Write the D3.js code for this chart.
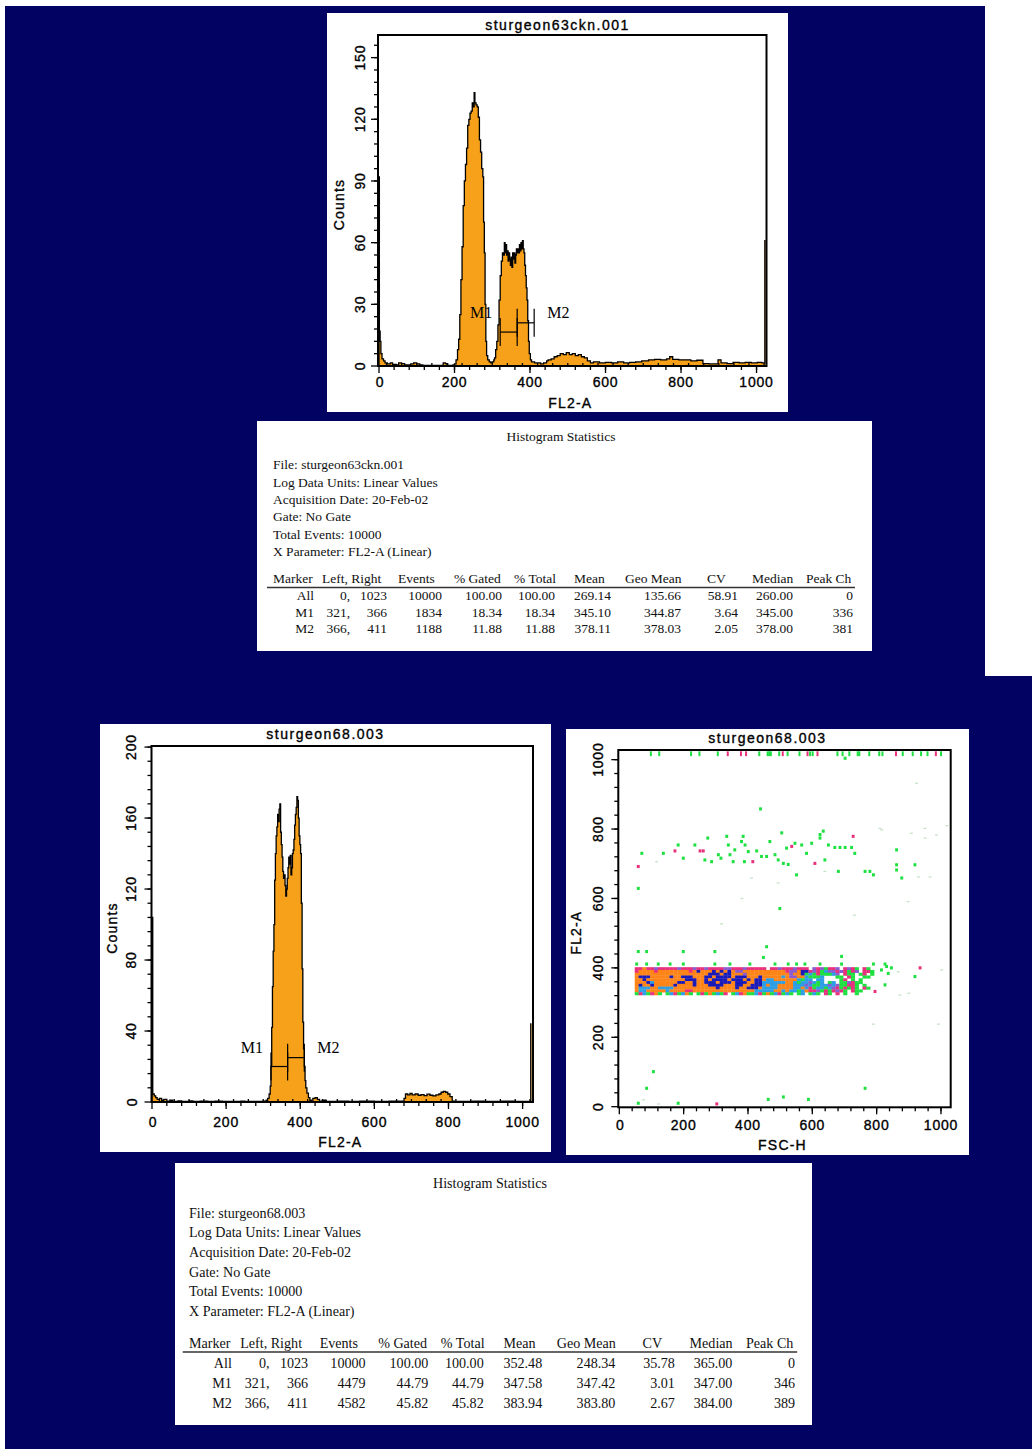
<!DOCTYPE html>
<html><head><meta charset="utf-8">
<script src="https://cdn.jsdelivr.net/npm/d3@7"></script>
<style>body{margin:0;background:#fff}svg{display:block}</style>
</head><body>
<svg id="c" width="1032" height="1449"></svg>
<script>
// ---------------- DATA ----------------
// Histogram 1 (sturgeon63ckn.001): bin start channel -> count
const hist1Channels = [0,1,3,5,8,12,16,22,30,36,46,52,60,68,76,84,92,100,108,116,124,132,140,150,160,170,176,182,190,196,
200,204,208,211,214,217,220,223,226,229,232,235,238,241,244,247,250,252,254,257,260,263,266,269,272,275,277,279,281,283,285,288,292,296,300,304,
306,309,312,315,318,321,324,327,330,332,334,336,338,340,342,344,346,348,350,352,354,356,358,360,362,364,366,368,370,372,374,376,378,380,382,384,386,388,390,392,394,396,398,401,404,
412,420,428,436,444,448,456,464,472,480,488,496,504,512,520,528,536,544,552,560,568,584,600,616,632,648,664,680,696,714,730,746,762,770,778,794,810,826,842,858,874,890,898,906,922,938,954,970,986,1002,1014,1022];
const hist1Counts = [92,17,12,6,3.5,2.5,1.5,1,1.5,0.8,0.5,1.5,1.2,0.5,0.5,1,1.5,1,0.5,0.3,0.3,0.3,0.3,0.3,0.3,1.5,1.2,0.3,0.3,0.5,
1,3,8,13,25,42,58,78,90,98,106,117,120,123,124,128,126,133,128,127,126,121,110,104,96,92,70,55,30,12,5,3,2,1.5,2,3,
4,8,12,20,32,44,51,55,54,60,55,59,54,56,51,55,52,49,53,48,55,52,55,50,54,57,55,57,55,59,56,60,57,61,57,55,49,44,38,32,22,12,6,3,2,
1.5,1.5,1,1.5,2.5,3,3.5,4.5,5,6,5.5,6.5,5.5,6,5,5.5,4.5,4,2.5,1.5,2,1.5,1.8,1.5,2,1.5,1.8,2,2.5,3,3.2,3,3.5,4.5,3.2,3,3,2.5,2.8,1.2,1,1,3,1.5,1.2,1.8,1.5,1.8,1.5,1.8,1.5,61];

// Histogram 2 (sturgeon68.003)
const hist2Channels = [0,2,6,10,14,20,26,32,40,48,56,70,80,100,110,130,150,170,190,210,240,250,270,300,
308,312,316,319,321,323,325,327,329,331,333,335,337,339,341,343,345,347,349,351,353,355,357,359,361,363,365,367,369,371,373,375,377,379,381,383,385,387,389,391,393,395,397,399,401,403,405,407,409,411,413,415,418,422,426,430,
434,440,446,452,460,470,500,530,560,600,640,680,684,690,696,702,710,718,726,734,742,750,758,766,774,780,786,792,798,804,810,816,860,900,940,980,1022];
const hist2Counts = [104,4.5,3.5,2.5,1.5,2,1,1.5,0.5,1,0.3,0.6,0.3,0.6,0.3,0.5,0.3,0.5,0.3,0.4,0.5,0.3,0.4,0.5,
1,2,4.5,9,20,42,65,85,100,125,140,150,155,162,158,165,168,152,145,138,130,126,128,122,116,120,126,132,138,134,139,128,132,140,142,148,156,162,166,172,170,160,150,145,140,112,75,45,30,20,12,8,5,2.5,1,0.5,
2,2.5,1.5,0.5,1,0.3,0.5,0.3,0.5,0.3,0.5,2,4.5,4,4.8,4,4.5,3.8,4.2,3.6,4.4,3.8,3.5,4,4.5,5.5,6,5.5,4.5,3,0.5,0.3,0.5,0.3,0.5,0.3,44];

// Markers
const markerNames = ["M1","M2"];
const markerLeft = [321,366];
const markerRight = [366,411];
const marker1Levels = [16.5,21];   // bar heights (counts) on histogram 1
const marker2Levels = [20,25];     // bar heights (counts) on histogram 2

// Axis ticks
const histXTicks = [0,200,400,600,800,1000];
const hist1YTicks = [0,30,60,90,120,150];
const hist2YTicks = [0,40,80,120,160,200];
const dotTicks = [0,200,400,600,800,1000];

// Dot plot (FSC-H vs FL2-A): dense band as density-coded cells
// codes: o orange, b blue, c light blue, p pink, u purple, g green, . empty
const bandFscStart = 48, bandFscStep = 12, bandFl2Top = 394, bandFl2Step = 8;
const bandRows = [
"ppoppupppp pupppuppup pppuupppup pppp.ppupp puppp.upug ppu.pupg.p g.",
"poooopoooo oooopobooo bobobouuoo ooooooooop uuobbpupgc uupupgpu.p pg",
"oooooooooo ooooooooob bbobbooouo oooooooooo uoobgcgpgg gcu.pgg.gp .g",
"obbbooooob oobbbooobb obbbbobbbo ooboooooco uuoocgggc. ..gg.pg..g g.",
"oobooooooo ooobbboobo bbbbobbbob obboccoooo oocgcc.cc. ...gp.g.g. ..",
"ooobcooooo obbooboobb bobbbobbbo obbcccccco ocgccucgc. gc.ggupgg. ..",
"oboobooooo boooobooob bbbooobboo bbbcoccooo occcucggcc ucuggppg.g ..",
"occcoocccc oooooooooo obooooboob bboccccooo occocpgccg cupgpgpg.p g.",
"occoooooco oooppooooo oooooooooo occcccooco ccgcoppugp gpupg.pgg. ..",
"gpcgpog.gc pgcog.gpgo gcgp.gcpog gcpgogcpgc g.gc.gcg.p g.p.g..g.. .."
];
// sparse events [FSC, FL2]
const dotsGreen = [[70,730],[137,730],[183,754],[199,716],[235,754],[266,711],[275,774],[287,706],[308,726],[316,716],[334,779],[339,754],[344,726],[354,706],[359,740],[380,764],[385,779],[391,754],[389,706],[401,735],[427,737],[442,721],[458,721],[468,764],[484,726],[494,711],[505,789],[510,701],[520,745],[525,698],[546,759],[551,668],[567,754],[582,730],[598,759],[624,784],[624,774],[634,794],[639,711],[650,754],[670,747],[686,747],[702,747],[722,747],[732,730],[764,678],[779,678],[790,668],[862,740],[862,697],[862,682],[919,697],[878,659],[681,678],[439,858],[499,571],[59,629],[702,1004],
[106,101],[85,53],[764,53],[59,10],[463,21],[510,28],[588,21],[183,10],
[59,447],[85,447],[199,447],[297,447],[458,461],[691,433],[831,404],[846,400],[919,375],[826,351],[54,411],[85,411],[121,411],[158,411],[199,411],[297,411],[344,411],[406,411],[484,411],[525,411],[551,411],[577,411],[624,411],[691,411],[790,411],[826,411],[448,430],[785,389],[815,394],[836,384]];
const dotsPink = [[173,737],[251,737],[261,737],[415,706],[536,750],[608,701],[727,779],[59,692],[303,8],[935,400],[795,332]];
const dotsFaint = [[924,932],[116,706],[411,659],[494,645],[951,774],[816,798],[1018,810],[930,662],[966,662],[986,783],[950,802],[810,802],[898,591],[731,552],[318,527],[381,600],[639,678],[872,322],[1002,394],[790,238],[992,238],[75,20],[122,8],[867,389],[900,327],[908,788]];
// events piled at the top channel (FL2 = 1023): [FSC, code]
const topEdgeEvents = [[95,'g'],[121,'g'],[220,'g'],[246,'g'],[303,'g'],[334,'p'],[375,'p'],[391,'p'],[432,'g'],[458,'g'],[463,'g'],[468,'g'],[494,'g'],[505,'p'],[520,'g'],[557,'g'],[582,'p'],[590,'g'],[598,'g'],[613,'p'],[675,'g'],[691,'g'],[712,'g'],[738,'g'],[743,'g'],[774,'g'],[805,'g'],[815,'g'],[857,'p'],[878,'g'],[909,'g'],[935,'g'],[955,'g'],[981,'p'],[997,'g']];

// Statistics tables
const statsHeaders = ["Marker","Left, Right","Events","% Gated","% Total","Mean","Geo Mean","CV","Median","Peak Ch"];
const stats1Info = ["File: sturgeon63ckn.001","Log Data Units: Linear Values","Acquisition Date: 20-Feb-02","Gate: No Gate","Total Events: 10000","X Parameter: FL2-A (Linear)"];
const stats1Rows = [
 ["All","0,","1023","10000","100.00","100.00","269.14","135.66","58.91","260.00","0"],
 ["M1","321,","366","1834","18.34","18.34","345.10","344.87","3.64","345.00","336"],
 ["M2","366,","411","1188","11.88","11.88","378.11","378.03","2.05","378.00","381"]];
const stats2Info = ["File: sturgeon68.003","Log Data Units: Linear Values","Acquisition Date: 20-Feb-02","Gate: No Gate","Total Events: 10000","X Parameter: FL2-A (Linear)"];
const stats2Rows = [
 ["All","0,","1023","10000","100.00","100.00","352.48","248.34","35.78","365.00","0"],
 ["M1","321,","366","4479","44.79","44.79","347.58","347.42","3.01","347.00","346"],
 ["M2","366,","411","4582","45.82","45.82","383.94","383.80","2.67","384.00","389"]];

// ---------------- STYLE ----------------
const NAVY = '#020262', ORANGE = '#f7a11a';
const DOTC = {o:'#ff8418', b:'#1a1ab8', c:'#2c9ee6', p:'#e8307c', u:'#8a5cd0', g:'#1ee040', f:'#c8e2c8'};
const SANS = "'Liberation Sans', Arial, sans-serif";
const SERIF = "'Liberation Serif', 'Times New Roman', serif";

const svg = d3.select('#c');
svg.append('rect').attr('width',1032).attr('height',1449).attr('fill','#fff');
svg.append('rect').attr('x',5).attr('y',6).attr('width',980).attr('height',671).attr('fill',NAVY);
svg.append('rect').attr('x',5).attr('y',676).attr('width',1027).attr('height',773).attr('fill',NAVY);

function sansText(g, txt, x, y, opt={}) {
  const t = g.append('text').attr('x',x).attr('y',y).text(txt)
    .attr('font-family',SANS).attr('font-size',opt.size||14).attr('fill','#000')
    .attr('stroke','#000').attr('stroke-width',0.35)
    .attr('text-anchor',opt.anchor||'middle').attr('dominant-baseline','central')
    .style('letter-spacing',(opt.ls!=null?opt.ls:1)+'px');
  if (opt.rotate) t.attr('transform',`rotate(-90,${x},${y})`);
  return t;
}

function frameAxes(g, x, y, f, cfg) {
  const xt = g.append('g').attr('stroke','#000').attr('stroke-width',1.3);
  cfg.xMinor.forEach(v => {
    const X = x(v);
    if (cfg.xMinorUp && v % 40 !== 0) xt.append('line').attr('x1',X).attr('x2',X).attr('y1',f.b-3).attr('y2',f.b);
    else xt.append('line').attr('x1',X).attr('x2',X).attr('y1',f.b).attr('y2',f.b+4);
  });
  cfg.xTicks.forEach(v => xt.append('line').attr('x1',x(v)).attr('x2',x(v)).attr('y1',f.b).attr('y2',f.b+7));
  cfg.yMinor.forEach(v => xt.append('line').attr('x1',f.l-4).attr('x2',f.l).attr('y1',y(v)).attr('y2',y(v)));
  cfg.yTicks.forEach(v => xt.append('line').attr('x1',f.l-7).attr('x2',f.l).attr('y1',y(v)).attr('y2',y(v)));
  g.append('rect').attr('x',f.l).attr('y',f.t).attr('width',f.r-f.l).attr('height',f.b-f.t)
    .attr('fill','none').attr('stroke','#000').attr('stroke-width',2);
  cfg.xTicks.forEach(v => sansText(g, v, x(v)+(v===0?1:0), f.b+cfg.xLabOff, {ls:0.8}));
  cfg.yTicks.forEach(v => sansText(g, v, f.l-cfg.yLabOff, y(v), {rotate:true, ls:0.8}));
  sansText(g, cfg.title, (cfg.box[0]*2+cfg.box[2])/2, f.t-cfg.titleOff, {ls:1.5});
  sansText(g, cfg.xTitle, (f.l+f.r)/2-2, f.b+cfg.xTitleOff, {ls:1.2});
  sansText(g, cfg.yTitle, f.l-cfg.yTitleOff, (f.t+f.b)/2+4, {rotate:true, ls:1.2});
}

function drawHist(cfg, chans, counts, levels) {
  const g = svg.append('g');
  g.append('rect').attr('x',cfg.box[0]).attr('y',cfg.box[1]).attr('width',cfg.box[2]).attr('height',cfg.box[3]).attr('fill','#fff');
  const f = cfg.frame;
  const x = d3.scaleLinear().domain([0,1024]).range(cfg.xr);
  const y = d3.scaleLinear().domain([0,cfg.ymax]).range([f.b, f.t]);
  const pts = [[0,0]].concat(chans.map((c,i)=>[c,counts[i]]));
  pts.push([1024, counts[counts.length-1]]);
  const cl = v => y(Math.min(v, cfg.ymax));
  const area = d3.area().x(d=>x(d[0])).y0(y(0)).y1(d=>cl(d[1])).curve(d3.curveStepAfter);
  const line = d3.line().x(d=>x(d[0])).y(d=>cl(d[1])).curve(d3.curveStepAfter);
  g.append('path').attr('d',area(pts)).attr('fill',ORANGE);
  g.append('path').attr('d',line(pts)).attr('fill','none').attr('stroke','#000').attr('stroke-width',1.3);
  const mg = g.append('g').attr('stroke','#000').attr('stroke-width',1.2);
  markerNames.forEach((m,i) => {
    const yy = y(levels[i]), x1 = x(markerLeft[i]), x2 = x(markerRight[i]);
    mg.append('line').attr('x1',x1).attr('x2',x2).attr('y1',yy).attr('y2',yy);
    [x1,x2].forEach(X => mg.append('line').attr('x1',X).attr('x2',X).attr('y1',yy-14).attr('y2',yy+14));
  });
  const labY = Math.min(...levels.map(v=>y(v))) - 10;
  g.append('text').text(markerNames[0]).attr('x',x(markerLeft[0])-8).attr('y',labY).attr('text-anchor','end')
    .attr('dominant-baseline','central').attr('font-family',SERIF).attr('font-size',16).attr('fill','#000');
  g.append('text').text(markerNames[1]).attr('x',x(markerRight[1])+13).attr('y',labY).attr('text-anchor','start')
    .attr('dominant-baseline','central').attr('font-family',SERIF).attr('font-size',16).attr('fill','#000');
  frameAxes(g, x, y, f, cfg);
}

drawHist({box:[327,13,461,399], frame:{l:378,r:766.5,t:35,b:366}, xr:[379,765.6], ymax:161,
  xTicks:histXTicks, xMinor:d3.range(20,1024,20), xMinorUp:true, yTicks:hist1YTicks, yMinor:d3.range(6,161,6),
  title:'sturgeon63ckn.001', xTitle:'FL2-A', yTitle:'Counts', xLabOff:16, yLabOff:18, titleOff:10, xTitleOff:37, yTitleOff:39},
  hist1Channels, hist1Counts, marker1Levels);

drawHist({box:[100,724,451,428], frame:{l:151.5,r:533,t:746,b:1102}, xr:[152,531.5], ymax:200.6,
  xTicks:histXTicks, xMinor:d3.range(20,1024,20), xMinorUp:true, yTicks:hist2YTicks, yMinor:d3.range(8,201,8),
  title:'sturgeon68.003', xTitle:'FL2-A', yTitle:'Counts', xLabOff:20, yLabOff:20, titleOff:12, xTitleOff:40, yTitleOff:40},
  hist2Channels, hist2Counts, marker2Levels);

// ---------------- Dot plot ----------------
(function(){
  const g = svg.append('g');
  const box = [566,729,403,426];
  g.append('rect').attr('x',box[0]).attr('y',box[1]).attr('width',box[2]).attr('height',box[3]).attr('fill','#fff');
  const f = {l:618.3, r:950.7, t:750, b:1107.3};
  const xs = d3.scaleLinear().domain([0,1024]).range([619.3,948.7]);
  const ys = d3.scaleLinear().domain([0,1024]).range([1106.7,751.3]);
  const cells = [];
  bandRows.forEach((row,r) => row.replace(/ /g,'').split('').forEach((c,i) => {
    if (c !== '.') cells.push({fsc: bandFscStart + i*bandFscStep, fl2: bandFl2Top - r*bandFl2Step, c});
  }));
  g.selectAll('rect.cell').data(cells).join('rect').attr('class','cell')
    .attr('x',d=>xs(d.fsc)).attr('y',d=>ys(d.fl2+bandFl2Step))
    .attr('width',d=>xs(d.fsc+bandFscStep)-xs(d.fsc)+0.3).attr('height',d=>ys(d.fl2)-ys(d.fl2+bandFl2Step)+0.3)
    .attr('fill',d=>DOTC[d.c]);
  const sz = 9;
  g.selectAll('rect.faint').data(dotsFaint).join('rect').attr('class','faint')
    .attr('x',d=>xs(d[0]-sz/2)).attr('y',d=>ys(d[1])-0.6).attr('width',xs(sz)-xs(0)).attr('height',1.3).attr('fill',DOTC.f);
  g.selectAll('rect.gdot').data(dotsGreen).join('rect').attr('class','gdot')
    .attr('x',d=>xs(d[0]-sz/2)).attr('y',d=>ys(d[1]+sz/2)).attr('width',xs(sz)-xs(0)).attr('height',ys(0)-ys(sz)).attr('fill',DOTC.g);
  g.selectAll('rect.pdot').data(dotsPink).join('rect').attr('class','pdot')
    .attr('x',d=>xs(d[0]-sz/2)).attr('y',d=>ys(d[1]+sz/2)).attr('width',xs(sz)-xs(0)).attr('height',ys(0)-ys(sz)).attr('fill',DOTC.p);
  g.selectAll('rect.top').data(topEdgeEvents).join('rect').attr('class','top')
    .attr('x',d=>xs(d[0])).attr('y',ys(1024)).attr('width',2).attr('height',ys(1010)-ys(1024)).attr('fill',d=>DOTC[d[1]]);
  frameAxes(g, xs, ys, f, {box, xTicks:dotTicks, xMinor:d3.range(40,1024,40), xMinorUp:false,
    yTicks:dotTicks, yMinor:d3.range(40,1024,40), title:'sturgeon68.003', xTitle:'FSC-H', yTitle:'FL2-A',
    xLabOff:18, yLabOff:20, titleOff:12, xTitleOff:38, yTitleOff:42});
})();

// ---------------- Statistics tables ----------------
const headOff = [0,49,125,181,241,301,352,434,479,533];
const valRight = [41,77,114,169,229,282,338,408,465,520,580];
function drawTable(cfg, info, rows) {
  const g = svg.append('g');
  g.append('rect').attr('x',cfg.box[0]).attr('y',cfg.box[1]).attr('width',cfg.box[2]).attr('height',cfg.box[3]).attr('fill','#fff');
  const X = v => cfg.ox + v*cfg.s;
  const T = (txt,x,y,anchor) => g.append('text').text(txt).attr('x',x).attr('y',y+cfg.fs*0.33)
    .attr('text-anchor',anchor||'start').attr('font-family',SERIF).attr('font-size',cfg.fs).attr('fill','#111');
  T('Histogram Statistics', X(288), cfg.yTitle, 'middle');
  info.forEach((t,i) => T(t, X(0), cfg.yInfo[i]));
  statsHeaders.forEach((h,i) => T(h, X(headOff[i]), cfg.yHeader));
  g.append('line').attr('x1',X(-6)).attr('x2',X(582)).attr('y1',cfg.yLine).attr('y2',cfg.yLine).attr('stroke','#333').attr('stroke-width',1.4);
  rows.forEach((r,ri) => r.forEach((v,ci) => T(v, X(valRight[ci]), cfg.yRows[ri], 'end')));
}
drawTable({box:[257,421,615,230], ox:273, s:1, fs:13.5, yTitle:437, yInfo:[465,482.3,499.6,516.9,534.2,551.5],
  yHeader:579, yLine:587.5, yRows:[596,612.5,629]}, stats1Info, stats1Rows);
drawTable({box:[175,1163,637,262], ox:189, s:1.045, fs:14.1, yTitle:1183, yInfo:[1213,1232.7,1252.4,1272.1,1291.8,1311.5],
  yHeader:1343, yLine:1352, yRows:[1363,1383,1403]}, stats2Info, stats2Rows);
</script>
</body></html>
